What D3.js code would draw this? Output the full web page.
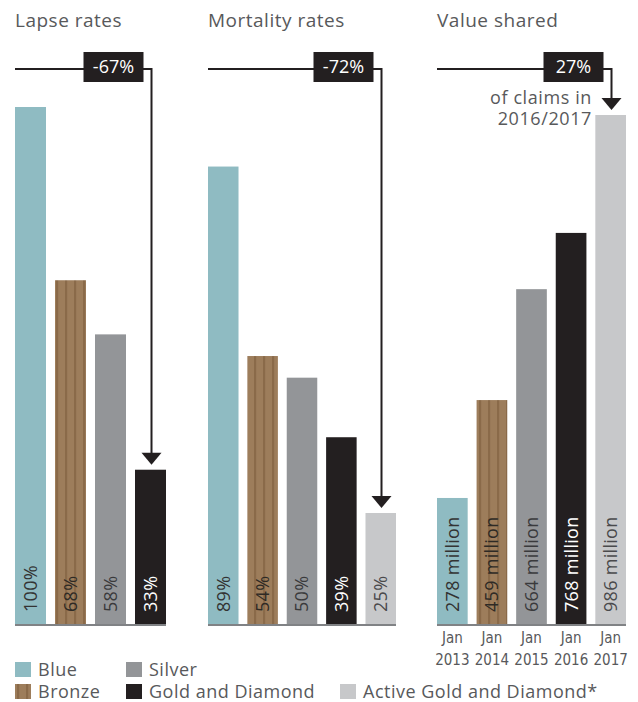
<!DOCTYPE html>
<html>
<head>
<meta charset="utf-8">
<script src="https://cdn.jsdelivr.net/npm/d3@7"></script>
<style>
	body { margin: 0; background: #fff; }
	text { font-family: "Open Sans", "Noto Sans", sans-serif; }
</style>
</head>
<body>
<script>
// chart data
var panelTitles = ["Lapse rates", "Mortality rates", "Value shared"];
var lapseTiers = ["blue", "bronze", "silver", "gold"];
var lapseValues = [100, 68, 58, 33];
var mortalityTiers = ["blue", "bronze", "silver", "gold", "active"];
var mortalityValues = [89, 54, 50, 39, 25];
var valueTiers = ["blue", "bronze", "silver", "gold", "active"];
var valueYears = ["2013", "2014", "2015", "2016", "2017"];
var valueShared = [278, 459, 664, 768, 986];
var changeLabels = ["-67%", "-72%", "27%"];
var noteLines = ["of claims in", "2016/2017"];
var legendKeys = ["blue", "silver", "bronze", "gold", "active"];
var legendLabels = ["Blue", "Silver", "Bronze", "Gold and Diamond", "Active Gold and Diamond*"];

var W = 638, H = 702;
var base = 624;
var txt = "#58595b";

var fills = {
	blue: "#8fbbc2",
	bronze: "url(#bronze)",
	silver: "#939598",
	gold: "#231f20",
	active: "#c7c8ca"
};
var labelColors = {
	blue: "#333",
	bronze: "#2e2a25",
	silver: "#3a3a3c",
	gold: "#fff",
	active: "#4a4a4c"
};

var svg = d3.select("body").append("svg")
	.attr("width", W)
	.attr("height", H);

// striped bronze fill
var pat = svg.append("defs").append("pattern")
	.attr("id", "bronze")
	.attr("patternUnits", "userSpaceOnUse")
	.attr("width", 9)
	.attr("height", 10);
pat.append("rect").attr("width", 9).attr("height", 10).attr("fill", "#9d7d5b");
pat.append("rect").attr("x", 2).attr("width", 2.2).attr("height", 10).attr("fill", "#8a6a49");

// the two rate panels share one scale, the value panel has its own
var yRate = d3.scaleLinear().domain([4.5, 100]).range([base, 107]);
var yValue = d3.scaleLinear().domain([45, 986]).range([base, 115]);

var panels = [
	{ x0: 15, x1: 166, tiers: lapseTiers, values: lapseValues, y: yRate,
		label: function(d) { return d + "%"; } },
	{ x0: 208, x1: 396, tiers: mortalityTiers, values: mortalityValues, y: yRate,
		label: function(d) { return d + "%"; } },
	{ x0: 437, x1: 626, tiers: valueTiers, values: valueShared, y: yValue,
		label: function(d) { return d + " million"; } }
];

panels.forEach(function(p, pi) {
	var g = svg.append("g");
	var data = p.values.map(function(v, i) { return { v: v, tier: p.tiers[i], i: i }; });

	var x = d3.scaleBand()
		.domain(d3.range(data.length))
		.range([p.x0, p.x1])
		.paddingInner(0.225)
		.paddingOuter(0);

	// title
	g.append("text")
		.attr("x", p.x0)
		.attr("y", 27)
		.style("font-size", "19px")
		.style("letter-spacing", "0.5px")
		.style("fill", txt)
		.text(panelTitles[pi]);

	g.selectAll("rect.bar")
		.data(data)
		.enter().append("rect")
		.attr("class", "bar")
		.attr("x", function(d) { return x(d.i); })
		.attr("y", function(d) { return p.y(d.v); })
		.attr("width", x.bandwidth())
		.attr("height", function(d) { return base - p.y(d.v); })
		.attr("fill", function(d) { return fills[d.tier]; });

	// rotated value labels
	g.selectAll("text.val")
		.data(data)
		.enter().append("text")
		.attr("class", "val")
		.attr("transform", function(d) {
			return "translate(" + (x(d.i) + x.bandwidth() / 2) + "," + (base - 12) + ") rotate(-90)";
		})
		.attr("dy", "0.36em")
		.style("font-size", "18px")
		.style("letter-spacing", "0.3px")
		.style("fill", function(d) { return labelColors[d.tier]; })
		.text(function(d) { return p.label(d.v); });

	// baseline
	g.append("line")
		.attr("x1", p.x0).attr("x2", p.x1)
		.attr("y1", base + 1).attr("y2", base + 1)
		.attr("stroke", "#808285")
		.attr("stroke-width", 2);

	// arrow from the first bar to the last one
	var last = data[data.length - 1];
	var ax = Math.round(x(last.i) + x.bandwidth() / 2) + 0.5;
	var tip = p.y(last.v) - 5;
	g.append("path")
		.attr("d", "M" + p.x0 + ",69 H" + ax + " V" + (tip - 10))
		.attr("fill", "none")
		.attr("stroke", "#231f20")
		.attr("stroke-width", 2);
	g.append("path")
		.attr("d", "M" + (ax - 10) + "," + (tip - 12) + " L" + (ax + 10) + "," + (tip - 12) + " L" + ax + "," + tip + " Z")
		.attr("fill", "#231f20");

	var bx = ax - 8 - 60;
	g.append("rect")
		.attr("x", bx).attr("y", 52)
		.attr("width", 60).attr("height", 30)
		.attr("fill", "#231f20");
	g.append("text")
		.attr("x", bx + 30)
		.attr("y", 67)
		.attr("dy", "0.36em")
		.attr("text-anchor", "middle")
		.style("font-size", "18px")
		.style("fill", "#fff")
		.text(changeLabels[pi]);

	if (pi == 2) {
		g.selectAll("text.note")
			.data(noteLines)
			.enter().append("text")
			.attr("class", "note")
			.attr("x", 592)
			.attr("y", function(d, i) { return 104 + i * 21; })
			.attr("text-anchor", "end")
			.style("font-size", "18px")
			.style("letter-spacing", "0.6px")
			.style("fill", txt)
			.text(function(d) { return d; });

		// year ticks
		var ticks = g.selectAll("text.year")
			.data(valueYears)
			.enter().append("text")
			.attr("class", "year")
			.attr("x", function(d, i) { return x(i) + x.bandwidth() / 2; })
			.attr("y", 643)
			.attr("text-anchor", "middle")
			.style("font-family", "'Liberation Sans Narrow', 'DejaVu Sans Condensed', sans-serif")
			.style("font-size", "15px")
			.style("fill", txt);
		ticks.append("tspan").text("Jan");
		ticks.append("tspan")
			.attr("x", function(d, i) { return x(i) + x.bandwidth() / 2; })
			.attr("dy", 22)
			.text(function(d) { return d; });
	}
});

// legend
var legendPos = [[15, 662], [126, 662], [15, 684], [126, 684], [340, 684]];
var lg = svg.selectAll("g.legend")
	.data(legendKeys)
	.enter().append("g")
	.attr("class", "legend")
	.attr("transform", function(d, i) { return "translate(" + legendPos[i][0] + "," + legendPos[i][1] + ")"; });
lg.append("rect")
	.attr("width", 16).attr("height", 15)
	.attr("fill", function(d) { return fills[d]; });
lg.append("text")
	.attr("x", 23)
	.attr("y", 13.5)
	.style("font-size", "18px")
	.style("letter-spacing", "0.5px")
	.style("fill", txt)
	.text(function(d, i) { return legendLabels[i]; });
</script>
</body>
</html>
